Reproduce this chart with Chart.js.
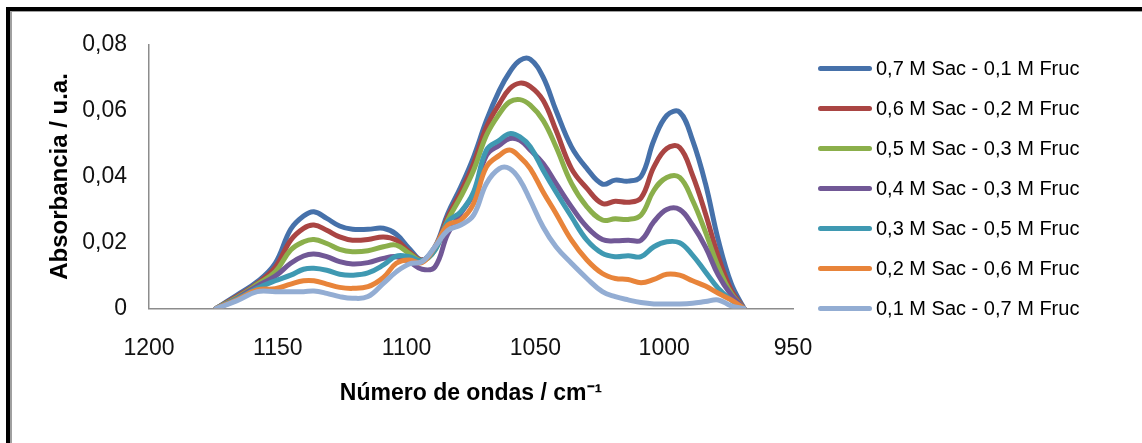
<!DOCTYPE html>
<html>
<head>
<meta charset="utf-8">
<script src="https://cdn.jsdelivr.net/npm/chart.js@4.4.1/dist/chart.umd.min.js"></script>
<style>
  body { margin: 0; background: #fff; width: 1142px; height: 443px; overflow: hidden; position: relative; font-family: "Liberation Sans", Arial, sans-serif; }
  #frame { position: absolute; left: 6px; top: 7px; width: 1200px; height: 500px; border-left: 4px solid #000; border-top: 4px solid #000; }
  #frame2 { position: absolute; left: 10px; top: 11px; width: 1200px; height: 500px; border-left: 2px solid #a0a0a0; border-top: 1px solid #a0a0a0; }
  #chart { position: absolute; left: 0; top: 0; }
  #legend { position: absolute; left: 818px; top: 0; }
  .row { position: absolute; left: 0; height: 24px; display: flex; align-items: center; white-space: nowrap; font-size: 20px; color: #000; }
  .swatch { width: 54px; height: 5px; border-radius: 3px; margin-right: 4px; }
</style>
</head>
<body>
<div id="frame"></div>
<div id="frame2"></div>
<canvas id="chart" width="1142" height="443"></canvas>
<div id="legend"></div>
<script>
const wavenumbers = [1174, 1166, 1158, 1151, 1145, 1140, 1136, 1131, 1126, 1121,
  1115, 1109, 1104, 1099, 1094, 1089, 1084, 1079, 1074, 1069,
  1064, 1060, 1056, 1052, 1047, 1042, 1036, 1030, 1024, 1019,
  1014, 1009, 1004, 999, 994, 989, 984, 979, 974, 969];

const sac07 = [0, 0.0040, 0.0081, 0.0137, 0.0240, 0.0280, 0.0293, 0.0273, 0.0250, 0.0240,
  0.0240, 0.0243, 0.0225, 0.0182, 0.0147, 0.0187, 0.0288, 0.0368, 0.0459, 0.0570,
  0.0661, 0.0716, 0.0752, 0.0755, 0.0701, 0.0600, 0.0490, 0.0424, 0.0377, 0.0389,
  0.0386, 0.0400, 0.0510, 0.0585, 0.0595, 0.0510, 0.0379, 0.0207, 0.0076, 0];
const sac06 = [0, 0.0036, 0.0076, 0.0125, 0.0207, 0.0243, 0.0253, 0.0237, 0.0217, 0.0207,
  0.0209, 0.0217, 0.0207, 0.0172, 0.0147, 0.0182, 0.0278, 0.0353, 0.0439, 0.0550,
  0.0620, 0.0666, 0.0683, 0.0673, 0.0631, 0.0540, 0.0424, 0.0364, 0.0318, 0.0325,
  0.0322, 0.0335, 0.0429, 0.0485, 0.0488, 0.0404, 0.0288, 0.0157, 0.0056, 0];
const sac05 = [0, 0.0033, 0.0073, 0.0111, 0.0177, 0.0202, 0.0209, 0.0197, 0.0179, 0.0172,
  0.0175, 0.0187, 0.0192, 0.0167, 0.0145, 0.0177, 0.0268, 0.0338, 0.0419, 0.0525,
  0.0590, 0.0626, 0.0633, 0.0616, 0.0570, 0.0490, 0.0379, 0.0308, 0.0268, 0.0272,
  0.0270, 0.0283, 0.0358, 0.0397, 0.0397, 0.0328, 0.0232, 0.0126, 0.0046, 0];
const sac04 = [0, 0.0030, 0.0068, 0.0098, 0.0137, 0.0159, 0.0165, 0.0157, 0.0142, 0.0135,
  0.0139, 0.0152, 0.0157, 0.0142, 0.0119, 0.0126, 0.0227, 0.0288, 0.0348, 0.0464,
  0.0495, 0.0515, 0.0510, 0.0480, 0.0439, 0.0379, 0.0308, 0.0247, 0.0209, 0.0205,
  0.0207, 0.0207, 0.0263, 0.0300, 0.0300, 0.0253, 0.0187, 0.0101, 0.0041, 0];
const sac03 = [0, 0.0028, 0.0061, 0.0084, 0.0101, 0.0119, 0.0122, 0.0116, 0.0104, 0.0101,
  0.0108, 0.0132, 0.0159, 0.0157, 0.0145, 0.0177, 0.0263, 0.0293, 0.0353, 0.0480,
  0.0510, 0.0530, 0.0520, 0.0490, 0.0419, 0.0353, 0.0278, 0.0207, 0.0167, 0.0157,
  0.0160, 0.0157, 0.0187, 0.0202, 0.0199, 0.0162, 0.0111, 0.0061, 0.0026, 0];
const sac02 = [0, 0.0026, 0.0056, 0.0060, 0.0074, 0.0084, 0.0084, 0.0074, 0.0064, 0.0061,
  0.0066, 0.0094, 0.0137, 0.0147, 0.0139, 0.0187, 0.0253, 0.0268, 0.0318, 0.0429,
  0.0464, 0.0480, 0.0459, 0.0424, 0.0353, 0.0288, 0.0207, 0.0147, 0.0106, 0.0091,
  0.0088, 0.0078, 0.0088, 0.0104, 0.0101, 0.0084, 0.0068, 0.0046, 0.0026, 0];
const sac01 = [0, 0.0023, 0.0051, 0.0051, 0.0051, 0.0051, 0.0053, 0.0046, 0.0036, 0.0031,
  0.0036, 0.0076, 0.0111, 0.0135, 0.0142, 0.0187, 0.0237, 0.0253, 0.0283, 0.0379,
  0.0424, 0.0424, 0.0389, 0.0328, 0.0247, 0.0187, 0.0137, 0.0091, 0.0051, 0.0036,
  0.0026, 0.0018, 0.0014, 0.0014, 0.0014, 0.0016, 0.0021, 0.0026, 0.0008, 0];

const seriesLabels = [
  "0,7 M Sac - 0,1 M Fruc",
  "0,6 M Sac - 0,2 M Fruc",
  "0,5 M Sac - 0,3 M Fruc",
  "0,4 M Sac - 0,3 M Fruc",
  "0,3 M Sac - 0,5 M Fruc",
  "0,2 M Sac - 0,6 M Fruc",
  "0,1 M Sac - 0,7 M Fruc"
];
const seriesValues = [sac07, sac06, sac05, sac04, sac03, sac02, sac01];
const seriesColors = ["#4671AA", "#AA4543", "#8BAF4B", "#715896", "#3F99B2", "#E8843A", "#93ADD3"];

const fontFamily = '"Liberation Sans", Arial, sans-serif';

const datasets = seriesValues.map((vals, i) => ({
  label: seriesLabels[i],
  data: vals.map((v, j) => ({ x: wavenumbers[j], y: v })),
  borderColor: seriesColors[i],
  backgroundColor: seriesColors[i],
  borderWidth: 5,
  borderCapStyle: "round",
  borderJoinStyle: "round",
  pointRadius: 0,
  tension: 0.4,
  fill: false,
  order: -i
}));

const ctx = document.getElementById("chart").getContext("2d");
new Chart(ctx, {
  type: "line",
  data: { datasets: datasets },
  options: {
    responsive: false,
    animation: false,
    layout: { padding: { left: 0, right: 349, top: 44.5, bottom: 0 } },
    plugins: {
      legend: { display: false },
      tooltip: { enabled: false }
    },
    scales: {
      x: {
        type: "linear",
        min: 950,
        max: 1200,
        reverse: true,
        afterFit: (scale) => { scale.height = 134.5; },
        grid: { display: false, drawTicks: false },
        border: { display: true, color: "#8c8c8c", width: 1.5 },
        ticks: {
          stepSize: 50,
          padding: 26,
          color: "#111",
          font: { family: fontFamily, size: 23 },
          callback: (v) => String(v)
        },
        title: {
          display: true,
          text: "Número de ondas / cm⁻¹",
          color: "#000",
          font: { family: fontFamily, size: 23, weight: "bold" },
          padding: { top: 0, bottom: 36 }
        }
      },
      y: {
        min: 0,
        max: 0.08,
        afterFit: (scale) => { scale.width = 149; },
        grid: { display: false, drawTicks: false },
        border: { display: true, color: "#8c8c8c", width: 1.5 },
        ticks: {
          stepSize: 0.02,
          padding: 22,
          color: "#111",
          font: { family: fontFamily, size: 23 },
          callback: (v) => v === 0 ? "0" : v.toFixed(2).replace(".", ",")
        },
        title: {
          display: true,
          text: "Absorbancia / u.a.",
          color: "#000",
          font: { family: fontFamily, size: 24, weight: "bold" },
          padding: { top: 46, bottom: 0 }
        }
      }
    }
  }
});

// legend as html text, same order as the series
const legend = document.getElementById("legend");
seriesLabels.forEach((lab, i) => {
  const row = document.createElement("div");
  row.className = "row";
  row.style.top = (68 + i * 40 - 12) + "px";
  const sw = document.createElement("div");
  sw.className = "swatch";
  sw.style.background = seriesColors[i];
  const txt = document.createElement("span");
  txt.textContent = lab;
  row.appendChild(sw);
  row.appendChild(txt);
  legend.appendChild(row);
});
</script>
</body>
</html>
